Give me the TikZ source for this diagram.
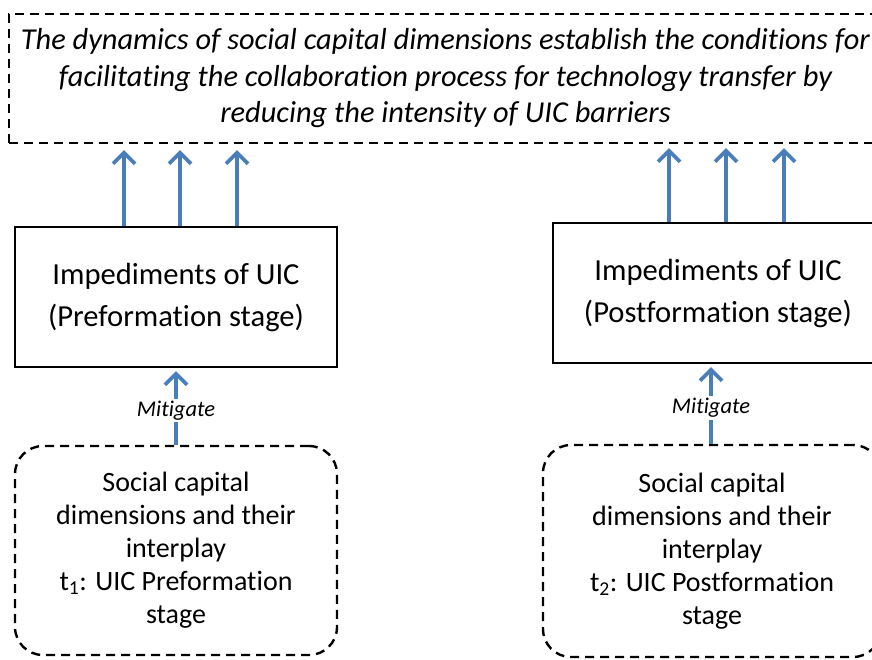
\documentclass[tikz,border=0pt]{standalone}
\usepackage{fontspec}
\setmainfont{Carlito}[Ligatures={NoCommon,NoRequired,NoContextual}]
\usetikzlibrary{arrows.meta}
\definecolor{arrowblue}{HTML}{4A7EBB}
\tikzset{
    goalbox/.style={draw, dash pattern=on 9pt off 6pt, line width=2.4pt, minimum width=873pt, minimum height=129pt, align=center, font=\fontsize{30.4}{36.5}\selectfont\itshape},
    impbox/.style={draw, line width=2.4pt, minimum height=140pt, align=center, font=\fontsize{30.6}{42}\selectfont},
    capbox/.style={draw, dash pattern=on 9pt off 6pt, line width=2.4pt, rounded corners=28pt, align=center, font=\fontsize{28}{33}\selectfont},
    upar/.style={arrowblue, line width=3.6pt, -{Straight Barb[length=11pt,width=22pt]}},
    mitlabel/.style={fill=white, inner sep=2pt, font=\fontsize{22.5}{25}\selectfont\itshape, text=black}
}
\begin{document}
\begin{tikzpicture}[x=1pt, y=1pt]
            \useasboundingbox (0,0) rectangle (872,-659);

            \node[goalbox] (goal) at (445.5,-78.5) {The dynamics of social capital dimensions establish the conditions for\\ facilitating the collaboration process for technology transfer by\\ reducing the intensity of UIC barriers};

            \node[impbox, minimum width=322pt] (impPre) at (176,-297) {Impediments of UIC\\ (Preformation stage)};
            \node[impbox, minimum width=330pt] (impPost) at (718,-293) {Impediments of UIC\\ (Postformation stage)};

            \node[capbox, minimum width=322pt, minimum height=209pt] (scPre) at (176,-550.5) {Social capital\\ dimensions and their\\ interplay\\ t\textsubscript{1}: UIC Preformation\\ stage};
            \node[capbox, minimum width=338pt, minimum height=212pt] (scPost) at (712,-551) {Social capital\\ dimensions and their\\ interplay\\ t\textsubscript{2}: UIC Postformation\\ stage};

            \foreach \dx in {-52,4,61}
                \draw[upar, shorten >=6pt] ([xshift=\dx]impPre.north) -- ([xshift=\dx]impPre.north |- goal.south);
            \foreach \dx in {-49,8,66}
                \draw[upar, shorten >=4pt] ([xshift=\dx]impPost.north) -- ([xshift=\dx]impPost.north |- goal.south);

            \draw[upar, shorten >=3pt] (scPre.north) -- (impPre.south) node[mitlabel, pos=0.45] {Mitigate};
            \draw[upar, shorten >=3pt] ([xshift=-1pt]scPost.north) -- ([xshift=-1pt]scPost.north |- impPost.south) node[mitlabel, pos=0.45] {Mitigate};

        \end{tikzpicture}
\end{document}
